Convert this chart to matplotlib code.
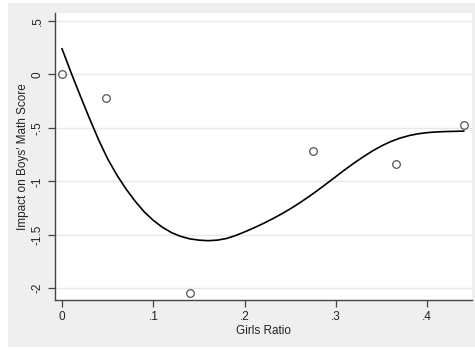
import matplotlib
matplotlib.use("Agg")
import matplotlib.pyplot as plt
from matplotlib.patches import Rectangle

plt.rcParams['font.family'] = ['Liberation Sans', 'DejaVu Sans']

# observed points
girls_ratio = [0.0, 0.048, 0.14, 0.275, 0.366, 0.44]
impact = [0.0, -0.22, -2.04, -0.72, -0.84, -0.475]

# fitted curve
fit_x = [0.0, 0.01, 0.02, 0.03, 0.04, 0.05, 0.06, 0.07, 0.08, 0.09, 0.10,
         0.11, 0.12, 0.13, 0.14, 0.15, 0.16, 0.17, 0.18, 0.19, 0.20, 0.21,
         0.22, 0.23, 0.24, 0.25, 0.26, 0.27, 0.28, 0.29, 0.30, 0.31, 0.32,
         0.33, 0.34, 0.35, 0.36, 0.37, 0.38, 0.39, 0.40, 0.41, 0.42, 0.43,
         0.44]
fit_y = [0.24, 0.015, -0.20, -0.41, -0.61, -0.79, -0.94, -1.07, -1.185,
         -1.285, -1.365, -1.43, -1.48, -1.515, -1.538, -1.55, -1.555, -1.55,
         -1.535, -1.507, -1.473, -1.436, -1.396, -1.353, -1.307, -1.257,
         -1.203, -1.145, -1.084, -1.020, -0.955, -0.890, -0.828, -0.770,
         -0.716, -0.668, -0.628, -0.596, -0.572, -0.555, -0.544, -0.538,
         -0.534, -0.532, -0.53]

xticks = [0, 0.1, 0.2, 0.3, 0.4]
xtick_labels = ['0', '.1', '.2', '.3', '.4']
yticks = [0.5, 0, -0.5, -1, -1.5, -2]
ytick_labels = ['.5', '0', '-.5', '-1', '-1.5', '-2']

fig = plt.figure(figsize=(4.75, 3.5), dpi=100)
fig.patch.set_facecolor('white')
# stata-style gray panel behind the plot region
panel = Rectangle((8 / 475, 3 / 350), 1 - 8 / 475, 344 / 350,
                  transform=fig.transFigure, facecolor='#efefef',
                  edgecolor='none', zorder=-10)
fig.add_artist(panel)

ax = fig.add_axes([55 / 475, 50 / 350, 416.5 / 475, 287 / 350])
ax.set_facecolor('white')

ax.plot(fit_x, fit_y, color='black', lw=1.2, zorder=3,
        solid_joinstyle='round')
ax.plot(girls_ratio, impact, 'o', markerfacecolor='none',
        markeredgecolor='#555555', markersize=5.5, markeredgewidth=0.9,
        zorder=4)

ax.set_xlim(-0.0077, 0.4485)
ax.set_ylim(-2.11, 0.575)

ax.set_xticks(xticks)
ax.set_xticklabels(xtick_labels)
ax.set_yticks(yticks)
ax.set_yticklabels(ytick_labels, rotation=90, va='center')

ax.yaxis.grid(True, color='#e8e8e8', lw=1)
ax.set_axisbelow(True)

for side in ['top', 'right']:
    ax.spines[side].set_visible(False)
for side in ['left', 'bottom']:
    ax.spines[side].set_color('#444444')
    ax.spines[side].set_linewidth(1)

ax.tick_params(direction='out', length=5, width=0.9, color='#444444',
               labelsize=8.5, labelcolor='#222222', pad=3)

ax.set_xlabel('Girls Ratio', fontsize=8.5, color='#222222', labelpad=1)
ax.set_ylabel("Impact on Boys' Math Score", fontsize=8.5, color='#222222',
              labelpad=2)

fig.savefig('out.png', dpi=100, facecolor=fig.get_facecolor())
